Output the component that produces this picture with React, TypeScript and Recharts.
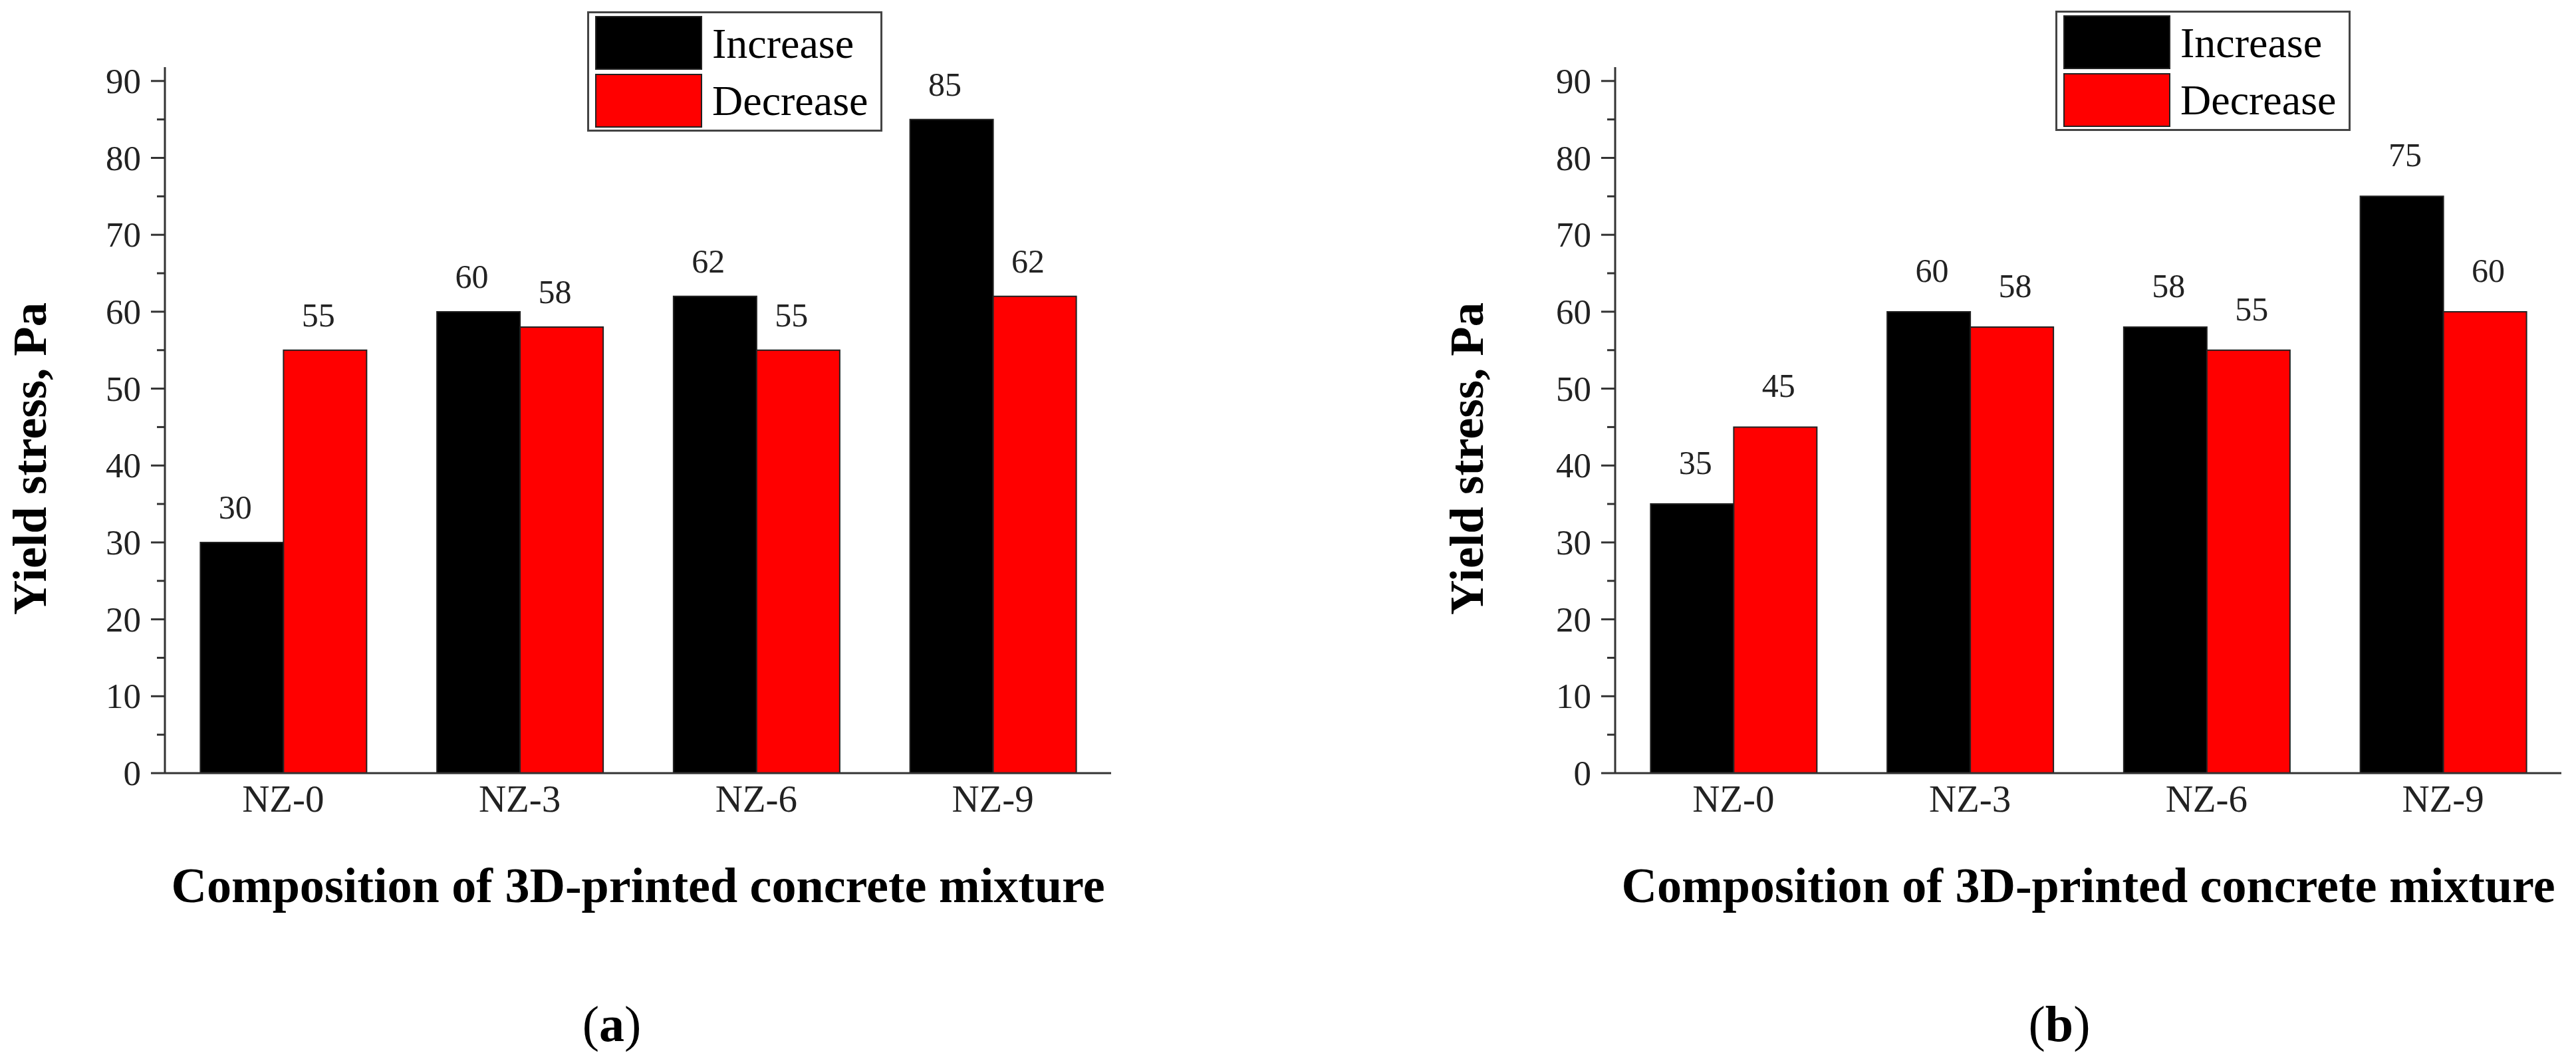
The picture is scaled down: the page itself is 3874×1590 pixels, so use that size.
import React from 'react';
import { BarChart, Bar, XAxis, YAxis, Legend, LabelList, Label } from 'recharts';

const FONT = '"Liberation Serif", "Times New Roman", serif';

const CATEGORIES = ['NZ-0', 'NZ-3', 'NZ-6', 'NZ-9'];
const INCREASE_A = [30, 60, 62, 85];
const DECREASE_A = [55, 58, 55, 62];
const INCREASE_B = [35, 60, 58, 75];
const DECREASE_B = [45, 58, 55, 60];
const Y_TICKS = [0, 5, 10, 15, 20, 25, 30, 35, 40, 45, 50, 55, 60, 65, 70, 75, 80, 85, 90];
const Y_MAX = 91.8;

const SERIES = [
  { key: 'increase', name: 'Increase', color: '#000000' },
  { key: 'decrease', name: 'Decrease', color: '#ff0000' },
];

const CHART_H = 1590;
const PLOT_TOP = 101;
const PLOT_BOTTOM = 1163;
const TICK_GAP = 36;
const AXIS_COLOR = '#333';

interface PanelLayout {
  letter: string;
  left: number;
  width: number;
  plotLeft: number;
  plotRight: number;
  legendLeft: number;
  legendTop: number;
  yTitleX: number;
  labelOffset: number;
  labelDx: number;
  captionX: number;
}

const LAYOUT_A: PanelLayout = {
  letter: 'a', left: 0, width: 2100, plotLeft: 248, plotRight: 1671,
  legendLeft: 883, legendTop: 17, yTitleX: 45, labelOffset: 36, labelDx: -10, captionX: 920,
};
const LAYOUT_B: PanelLayout = {
  letter: 'b', left: 2100, width: 1774, plotLeft: 329, plotRight: 1752,
  legendLeft: 991, legendTop: 16, yTitleX: 106, labelOffset: 45, labelDx: 5, captionX: 997,
};

// major ticks every 10 with labels, minor ticks at the 5s
const YTick = (props: any) => {
  const { x, y, payload } = props;
  const major = payload.value % 10 === 0;
  const ax = Number(x) + TICK_GAP;
  return (
    <g>
      <line x1={ax - (major ? 21 : 12)} x2={ax} y1={y} y2={y} stroke={AXIS_COLOR} strokeWidth={3} />
      {major && (
        <text x={x} y={y} dy="0.34em" textAnchor="end" fontFamily={FONT} fontSize={53} fill="#222">
          {payload.value}
        </text>
      )}
    </g>
  );
};

const LegendBox = () => (
  <svg width={444} height={181} style={{ display: 'block' }}>
    <rect x={1.5} y={1.5} width={441} height={178} fill="#fff" stroke="#444" strokeWidth={3} />
    {SERIES.map((s, i) => (
      <g key={s.key}>
        <rect x={13} y={8 + i * 87} width={159} height={79} fill={s.color} stroke="#222" strokeWidth={2} />
        <text x={188} y={70 + i * 86} fontFamily={FONT} fontSize={64} fill="#000">
          {s.name}
        </text>
      </g>
    ))}
  </svg>
);

const Panel = ({ layout, increase, decrease }: { layout: PanelLayout; increase: number[]; decrease: number[] }) => {
  const rows = CATEGORIES.map((name, i) => ({ name, increase: increase[i], decrease: decrease[i] }));
  const xAxisH = CHART_H - PLOT_BOTTOM;
  const titleX = (layout.plotLeft + layout.plotRight) / 2;

  const valueLabel = (p: any) => {
    const x = Number(p.x) + Number(p.width) / 2 + layout.labelDx;
    const y = Number(p.y) - layout.labelOffset;
    return (
      <text x={x} y={y} textAnchor="middle" fontFamily={FONT} fontSize={50} fill="#222">
        {p.value}
      </text>
    );
  };

  return (
    <div style={{ position: 'absolute', left: layout.left, top: 0 }}>
      <BarChart
        width={layout.width}
        height={CHART_H}
        data={rows}
        margin={{ top: PLOT_TOP, right: layout.width - layout.plotRight, left: 0, bottom: 0 }}
        barCategoryGap="15%"
        barGap={0}
      >
        <XAxis
          dataKey="name"
          height={xAxisH}
          interval={0}
          tickLine={false}
          tickSize={0}
          tickMargin={18}
          axisLine={{ stroke: AXIS_COLOR, strokeWidth: 3 }}
          tick={{ fontFamily: FONT, fontSize: 57, fill: '#222' }}
        >
          <Label
            content={() => (
              <text
                x={titleX}
                y={1357}
                textAnchor="middle"
                fontFamily={FONT}
                fontWeight="bold"
                fontSize={74}
                fill="#000"
                textLength={1404}
                lengthAdjust="spacingAndGlyphs"
              >
                Composition of 3D-printed concrete mixture
              </text>
            )}
          />
          <Label
            content={() => (
              <text x={layout.captionX} y={1566} textAnchor="middle" fontFamily={FONT} fontSize={76} fill="#000">
                (<tspan fontWeight="bold">{layout.letter}</tspan>)
              </text>
            )}
          />
        </XAxis>
        <YAxis
          width={layout.plotLeft}
          domain={[0, Y_MAX]}
          ticks={Y_TICKS}
          interval={0}
          tickSize={0}
          tickMargin={TICK_GAP}
          tickLine={false}
          axisLine={{ stroke: AXIS_COLOR, strokeWidth: 3 }}
          tick={<YTick />}
        >
          <Label
            content={() => (
              <text
                x={layout.yTitleX}
                y={690}
                dy="0.33em"
                transform={`rotate(-90, ${layout.yTitleX}, 690)`}
                textAnchor="middle"
                fontFamily={FONT}
                fontWeight="bold"
                fontSize={72}
                fill="#000"
                textLength={470}
                lengthAdjust="spacingAndGlyphs"
              >
                Yield stress, Pa
              </text>
            )}
          />
        </YAxis>
        {/* middle/center keeps the legend from reserving space in the plot offset */}
        <Legend
          layout="horizontal"
          verticalAlign="middle"
          align="center"
          content={() => <LegendBox />}
          wrapperStyle={{ position: 'absolute', left: layout.legendLeft, top: layout.legendTop, width: 444, height: 181 }}
        />
        {SERIES.map((s) => (
          <Bar
            key={s.key}
            dataKey={s.key}
            name={s.name}
            fill={s.color}
            stroke="#222"
            strokeWidth={2}
            isAnimationActive={false}
          >
            <LabelList dataKey={s.key} content={valueLabel} />
          </Bar>
        ))}
      </BarChart>
    </div>
  );
};

export default function App() {
  return (
    <div
      style={{
        position: 'absolute',
        left: 0,
        top: 0,
        width: 3874,
        height: 1590,
        background: '#fff',
        overflow: 'hidden',
      }}
    >
      <Panel layout={LAYOUT_A} increase={INCREASE_A} decrease={DECREASE_A} />
      <Panel layout={LAYOUT_B} increase={INCREASE_B} decrease={DECREASE_B} />
    </div>
  );
}
